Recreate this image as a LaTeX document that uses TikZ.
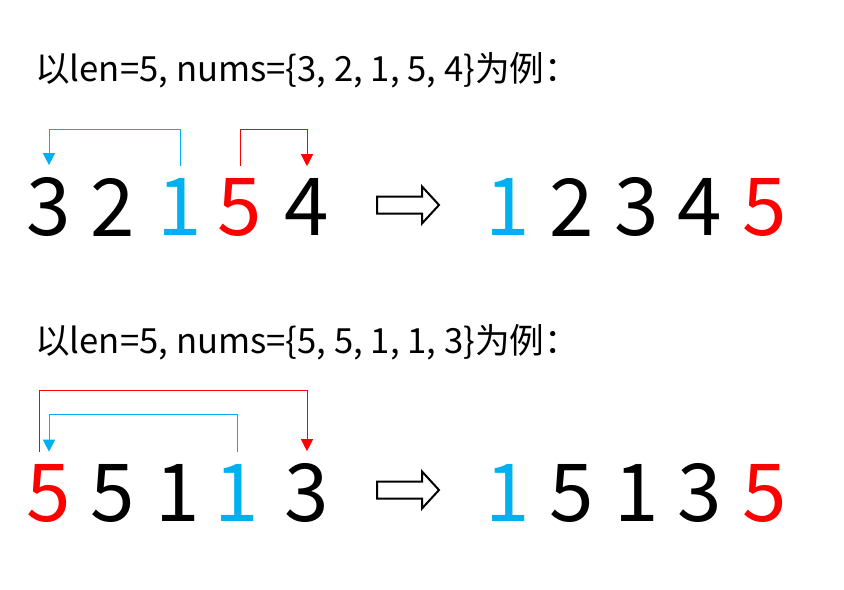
\documentclass[tikz,border=0pt]{standalone}
\usepackage{fontspec}
\setmainfont{Noto Sans CJK SC}
\usepackage{tikz}
\usetikzlibrary{arrows.meta}
\definecolor{myblue}{RGB}{0,176,240}
\definecolor{myred}{RGB}{255,0,0}

\begin{document}
\begin{tikzpicture}[x=0.75pt, y=-0.75pt,
    title/.style={anchor=west, inner sep=0pt, font=\fontsize{26}{31}\selectfont},
    num/.style={inner xsep=0pt, inner ysep=9pt, font=\fontsize{60}{70}\selectfont},
    hollow/.style={draw, line width=1.5pt, line join=miter},
    bluearr/.style={myblue, line width=0.75pt, -{Triangle[length=9pt,width=9pt]}},
    redarr/.style={myred, line width=0.75pt, -{Triangle[length=9pt,width=9pt]}}]
     \useasboundingbox (0,0) rectangle (844,590);
     % first example
     \node[title] (t1) at (35,70) {以len=5, nums=\{3, 2, 1, 5, 4\}为例：};
     \node[num] (a1) at (49,207) {3};
     \node[num] (a2) at (113,207) {2};
     \node[num, myblue] (a3) at (180,207) {1};
     \node[num, myred] (a4) at (240,207) {5};
     \node[num] (a5) at (307,207) {4};
     \coordinate (h1) at (377,205);
     \draw[hollow] (h1) -- ++(0,-8.5) -- ++(45,0) -- ++(0,-10) -- ++(17,18.5)
        -- ++(-17,18.5) -- ++(0,-10) -- ++(-45,0) -- cycle;
     \node[num, myblue] (b1) at (508,207) {1};
     \node[num] (b2) at (572,207) {2};
     \node[num] (b3) at (637,207) {3};
     \node[num] (b4) at (700,207) {4};
     \node[num, myred] (b5) at (765,207) {5};
\draw[bluearr] (a3.north) -- ++(0,-37) -| (a1.north);
\draw[redarr] (a4.north) -- ++(0,-36) -| (a5.north);
     % second example
     \node[title] (t2) at (35,342) {以len=5, nums=\{5, 5, 1, 1, 3\}为例：};
     \node[num, myred] (c1) at (49,493) {5};
     \node[num] (c2) at (113,493) {5};
     \node[num] (c3) at (178,493) {1};
     \node[num, myblue] (c4) at (237,493) {1};
     \node[num] (c5) at (307,493) {3};
     \coordinate (h2) at (377,490);
     \draw[hollow] (h2) -- ++(0,-8.5) -- ++(45,0) -- ++(0,-10) -- ++(17,18.5)
        -- ++(-17,18.5) -- ++(0,-10) -- ++(-45,0) -- cycle;
     \node[num, myblue] (d1) at (508,493) {1};
     \node[num] (d2) at (572,493) {5};
     \node[num] (d3) at (637,493) {1};
     \node[num] (d4) at (700,493) {3};
     \node[num, myred] (d5) at (765,493) {5};
\draw[redarr] ([xshift=-7.5pt]c1.north) -- ++(0,-61) -| (c5.north);
\draw[bluearr] (c4.north) -- ++(0,-38) -| (c1.north);
\end{tikzpicture}
\end{document}
